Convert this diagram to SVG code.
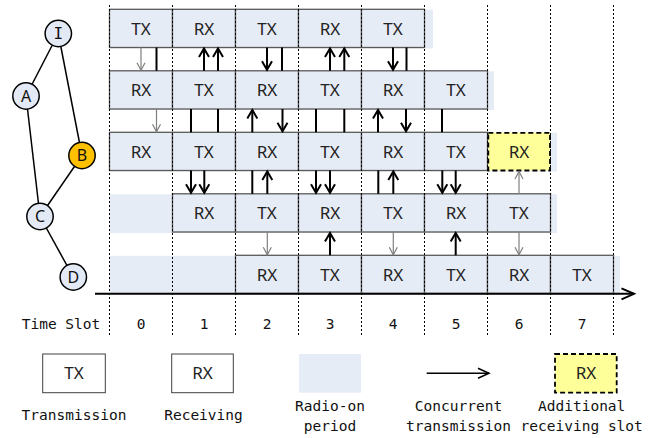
<svg xmlns="http://www.w3.org/2000/svg" width="656" height="438" viewBox="0 0 656 438">
<style>
.band{fill:#E6ECF6}
.box{fill:#E6ECF6;stroke:#595959;stroke-width:1.3}
.lbox{fill:#fff;stroke:#404040;stroke-width:1}
.ybox{fill:#FFFF99;stroke:#000;stroke-width:1.8;stroke-dasharray:5 3}
.bt{font-family:"Noto Sans","Open Sans",sans-serif;font-size:17px;fill:#222;text-anchor:middle}
.mono{font-family:"DejaVu Sans Mono","Liberation Mono",monospace;font-size:14.5px;fill:#111;text-anchor:middle}
.nl{font-family:"Noto Sans","Open Sans",sans-serif;font-size:16px;fill:#111;text-anchor:middle}
.grid{stroke:#000;stroke-width:1;stroke-dasharray:2 2;fill:none}
.edge{stroke:#000;stroke-width:1.5}
.node{fill:#E3EAF5;stroke:#000;stroke-width:1.5}
.bold{stroke:#000;stroke-width:2;fill:none}
.thin{stroke:#7F7F7F;stroke-width:1.2;fill:none}
</style>
<defs>
<marker id="ab" markerUnits="userSpaceOnUse" markerWidth="14" markerHeight="14" refX="10" refY="6" orient="auto" overflow="visible"><path d="M1.5,1 L10,6 L1.5,11" fill="none" stroke="#000" stroke-width="2"/></marker>
<marker id="at" markerUnits="userSpaceOnUse" markerWidth="14" markerHeight="14" refX="10" refY="6" orient="auto" overflow="visible"><path d="M2.5,2 L10,6 L2.5,10" fill="none" stroke="#7F7F7F" stroke-width="1.2"/></marker>
<marker id="ax" markerUnits="userSpaceOnUse" markerWidth="16" markerHeight="14" refX="13" refY="6" orient="auto" overflow="visible"><path d="M0.5,0.5 L13,6 L0.5,11.5" fill="none" stroke="#000" stroke-width="2"/></marker>
<marker id="al" markerUnits="userSpaceOnUse" markerWidth="16" markerHeight="14" refX="12" refY="6" orient="auto" overflow="visible"><path d="M1,1 L12,6 L1,11" fill="none" stroke="#000" stroke-width="1.5"/></marker>
</defs>

<!-- topology graph -->
<g id="edges">
<line class="edge" x1="58.3" y1="33.5" x2="26" y2="96"/>
<line class="edge" x1="58.3" y1="33.5" x2="82" y2="155.5"/>
<line class="edge" x1="26" y1="96" x2="40" y2="216.5"/>
<line class="edge" x1="82" y1="155.5" x2="40" y2="216.5"/>
<line class="edge" x1="40" y1="216.5" x2="73.3" y2="277"/>
</g>
<g id="node-I"><circle class="node" cx="58.3" cy="33.5" r="13.2"/><text class="mono" x="58.3" y="39.2" style="font-size:16px">I</text></g>
<g id="node-A"><circle class="node" cx="26" cy="96" r="13.2"/><text class="nl" x="26" y="101.7">A</text></g>
<g id="node-B"><circle class="node" cx="82" cy="155.5" r="13.2" style="fill:#FFC000"/><text class="nl" x="82" y="161.2">B</text></g>
<g id="node-C"><circle class="node" cx="40" cy="216.5" r="13.2"/><text class="nl" x="40" y="222.2">C</text></g>
<g id="node-D"><circle class="node" cx="73.3" cy="277" r="13.2"/><text class="nl" x="73.3" y="282.7">D</text></g>

<!-- radio-on bands -->
<g id="bands">
<rect class="band" x="109.5" y="9.8" width="323.5" height="38.7"/>
<rect class="band" x="109.5" y="71.3" width="384.5" height="38.7"/>
<rect class="band" x="109.5" y="132.8" width="447.5" height="38.7"/>
<rect class="band" x="109.5" y="194.3" width="447.5" height="38.7"/>
<rect class="band" x="109.5" y="255.8" width="510.5" height="38.2"/>
</g>

<!-- row I -->
<g id="row-I">
<rect class="box" x="109.5" y="9.3" width="63" height="38.2"/>
<rect class="box" x="172.5" y="9.3" width="63" height="38.2"/>
<rect class="box" x="235.5" y="9.3" width="63" height="38.2"/>
<rect class="box" x="298.5" y="9.3" width="63" height="38.2"/>
<rect class="box" x="361.5" y="9.3" width="63" height="38.2"/>
<text class="bt" x="141" y="34.5">TX</text>
<text class="bt" x="204" y="34.5">RX</text>
<text class="bt" x="267" y="34.5">TX</text>
<text class="bt" x="330" y="34.5">RX</text>
<text class="bt" x="393" y="34.5">TX</text>
</g>
<!-- row A -->
<g id="row-A">
<rect class="box" x="109.5" y="70.8" width="63" height="38.2"/>
<rect class="box" x="172.5" y="70.8" width="63" height="38.2"/>
<rect class="box" x="235.5" y="70.8" width="63" height="38.2"/>
<rect class="box" x="298.5" y="70.8" width="63" height="38.2"/>
<rect class="box" x="361.5" y="70.8" width="63" height="38.2"/>
<rect class="box" x="424.5" y="70.8" width="63" height="38.2"/>
<text class="bt" x="141" y="96">RX</text>
<text class="bt" x="204" y="96">TX</text>
<text class="bt" x="267" y="96">RX</text>
<text class="bt" x="330" y="96">TX</text>
<text class="bt" x="393" y="96">RX</text>
<text class="bt" x="456" y="96">TX</text>
</g>
<!-- row B -->
<g id="row-B">
<rect class="box" x="109.5" y="132.3" width="63" height="38.2"/>
<rect class="box" x="172.5" y="132.3" width="63" height="38.2"/>
<rect class="box" x="235.5" y="132.3" width="63" height="38.2"/>
<rect class="box" x="298.5" y="132.3" width="63" height="38.2"/>
<rect class="box" x="361.5" y="132.3" width="63" height="38.2"/>
<rect class="box" x="424.5" y="132.3" width="63" height="38.2"/>
<rect class="ybox" x="488.3" y="132.8" width="61.7" height="37.7"/>
<text class="bt" x="141" y="157.5">RX</text>
<text class="bt" x="204" y="157.5">TX</text>
<text class="bt" x="267" y="157.5">RX</text>
<text class="bt" x="330" y="157.5">TX</text>
<text class="bt" x="393" y="157.5">RX</text>
<text class="bt" x="456" y="157.5">TX</text>
<text class="bt" x="519" y="157.5">RX</text>
</g>
<!-- row C -->
<g id="row-C">
<rect class="box" x="172.5" y="193.8" width="63" height="38.2"/>
<rect class="box" x="235.5" y="193.8" width="63" height="38.2"/>
<rect class="box" x="298.5" y="193.8" width="63" height="38.2"/>
<rect class="box" x="361.5" y="193.8" width="63" height="38.2"/>
<rect class="box" x="424.5" y="193.8" width="63" height="38.2"/>
<rect class="box" x="487.5" y="193.8" width="63" height="38.2"/>
<text class="bt" x="204" y="219">RX</text>
<text class="bt" x="267" y="219">TX</text>
<text class="bt" x="330" y="219">RX</text>
<text class="bt" x="393" y="219">TX</text>
<text class="bt" x="456" y="219">RX</text>
<text class="bt" x="519" y="219">TX</text>
</g>
<!-- row D -->
<g id="row-D">
<rect class="box" x="235.5" y="255.3" width="63" height="38.2"/>
<rect class="box" x="298.5" y="255.3" width="63" height="38.2"/>
<rect class="box" x="361.5" y="255.3" width="63" height="38.2"/>
<rect class="box" x="424.5" y="255.3" width="63" height="38.2"/>
<rect class="box" x="487.5" y="255.3" width="63" height="38.2"/>
<rect class="box" x="550.5" y="255.3" width="63" height="38.2"/>
<text class="bt" x="267" y="280.5">RX</text>
<text class="bt" x="330" y="280.5">TX</text>
<text class="bt" x="393" y="280.5">RX</text>
<text class="bt" x="456" y="280.5">TX</text>
<text class="bt" x="519" y="280.5">RX</text>
<text class="bt" x="582" y="280.5">TX</text>
</g>

<!-- slot grid -->
<g id="grid">
<line class="grid" x1="109.5" y1="5" x2="109.5" y2="337"/>
<line class="grid" x1="172.5" y1="5" x2="172.5" y2="337"/>
<line class="grid" x1="235.5" y1="5" x2="235.5" y2="337"/>
<line class="grid" x1="298.5" y1="5" x2="298.5" y2="337"/>
<line class="grid" x1="361.5" y1="5" x2="361.5" y2="337"/>
<line class="grid" x1="424.5" y1="5" x2="424.5" y2="337"/>
<line class="grid" x1="487.5" y1="5" x2="487.5" y2="337"/>
<line class="grid" x1="550.5" y1="5" x2="550.5" y2="337"/>
<line class="grid" x1="613.5" y1="5" x2="613.5" y2="337"/>
</g>

<!-- connectors -->
<g id="connectors">
<!-- gap I/A -->
<line class="thin" x1="141" y1="47.5" x2="141" y2="70.3" marker-end="url(#at)"/>
<line class="bold" x1="156.5" y1="47.5" x2="156.5" y2="70.8"/>
<line class="bold" x1="204" y1="70.8" x2="204" y2="48.5" marker-end="url(#ab)"/>
<line class="bold" x1="218" y1="70.8" x2="218" y2="48.5" marker-end="url(#ab)"/>
<line class="bold" x1="267" y1="47.5" x2="267" y2="69.8" marker-end="url(#ab)"/>
<line class="bold" x1="282" y1="47.5" x2="282" y2="70.8"/>
<line class="bold" x1="330" y1="70.8" x2="330" y2="48.5" marker-end="url(#ab)"/>
<line class="bold" x1="344.3" y1="70.8" x2="344.3" y2="48.5" marker-end="url(#ab)"/>
<line class="bold" x1="393" y1="47.5" x2="393" y2="69.8" marker-end="url(#ab)"/>
<line class="bold" x1="406.5" y1="47.5" x2="406.5" y2="70.8"/>
<!-- gap A/B -->
<line class="thin" x1="156.5" y1="109" x2="156.5" y2="131.8" marker-end="url(#at)"/>
<line class="bold" x1="191" y1="109" x2="191" y2="132.3"/>
<line class="bold" x1="218" y1="109" x2="218" y2="132.3"/>
<line class="bold" x1="252.3" y1="132.3" x2="252.3" y2="110" marker-end="url(#ab)"/>
<line class="bold" x1="282.5" y1="109" x2="282.5" y2="131.3" marker-end="url(#ab)"/>
<line class="bold" x1="316" y1="109" x2="316" y2="132.3"/>
<line class="bold" x1="344.3" y1="109" x2="344.3" y2="132.3"/>
<line class="bold" x1="378" y1="132.3" x2="378" y2="110" marker-end="url(#ab)"/>
<line class="bold" x1="406" y1="109" x2="406" y2="131.3" marker-end="url(#ab)"/>
<line class="bold" x1="442" y1="109" x2="442" y2="132.3"/>
<!-- gap B/C -->
<line class="bold" x1="191" y1="170.5" x2="191" y2="192.8" marker-end="url(#ab)"/>
<line class="bold" x1="204.3" y1="170.5" x2="204.3" y2="192.8" marker-end="url(#ab)"/>
<line class="bold" x1="252.3" y1="170.5" x2="252.3" y2="193.8"/>
<line class="bold" x1="267.3" y1="193.8" x2="267.3" y2="171.5" marker-end="url(#ab)"/>
<line class="bold" x1="316" y1="170.5" x2="316" y2="192.8" marker-end="url(#ab)"/>
<line class="bold" x1="330" y1="170.5" x2="330" y2="192.8" marker-end="url(#ab)"/>
<line class="bold" x1="378.3" y1="170.5" x2="378.3" y2="193.8"/>
<line class="bold" x1="393.3" y1="193.8" x2="393.3" y2="171.5" marker-end="url(#ab)"/>
<line class="bold" x1="442.3" y1="170.5" x2="442.3" y2="192.8" marker-end="url(#ab)"/>
<line class="bold" x1="455.7" y1="170.5" x2="455.7" y2="192.8" marker-end="url(#ab)"/>
<line class="thin" x1="519" y1="193.8" x2="519" y2="171.5" marker-end="url(#at)"/>
<!-- gap C/D -->
<line class="thin" x1="267.3" y1="232" x2="267.3" y2="254.8" marker-end="url(#at)"/>
<line class="bold" x1="330" y1="255.3" x2="330" y2="233" marker-end="url(#ab)"/>
<line class="thin" x1="393.3" y1="232" x2="393.3" y2="254.8" marker-end="url(#at)"/>
<line class="bold" x1="455.7" y1="255.3" x2="455.7" y2="233" marker-end="url(#ab)"/>
<line class="thin" x1="519" y1="232" x2="519" y2="254.8" marker-end="url(#at)"/>
</g>

<!-- time axis -->
<g id="axis">
<line x1="95" y1="293.8" x2="634" y2="293.8" stroke="#000" stroke-width="2" marker-end="url(#ax)"/>
<text class="mono" x="61" y="329">Time Slot</text>
<text class="mono" x="141" y="329">0</text>
<text class="mono" x="204" y="329">1</text>
<text class="mono" x="267" y="329">2</text>
<text class="mono" x="330" y="329">3</text>
<text class="mono" x="393" y="329">4</text>
<text class="mono" x="456" y="329">5</text>
<text class="mono" x="519" y="329">6</text>
<text class="mono" x="582" y="329">7</text>
</g>

<!-- legend -->
<g id="legend-tx">
<rect class="lbox" x="42.7" y="354" width="62.6" height="38.7"/>
<text class="bt" x="74" y="379.2">TX</text>
<text class="mono" x="74" y="420">Transmission</text>
</g>
<g id="legend-rx">
<rect class="lbox" x="171.7" y="354" width="61.6" height="38.7"/>
<text class="bt" x="202.5" y="379.2">RX</text>
<text class="mono" x="203.5" y="420">Receiving</text>
</g>
<g id="legend-radio">
<rect class="band" x="299" y="354" width="62" height="38.7"/>
<text class="mono" x="330" y="411">Radio-on</text>
<text class="mono" x="330" y="431">period</text>
</g>
<g id="legend-concurrent">
<line x1="426.7" y1="373.3" x2="489" y2="373.3" stroke="#000" stroke-width="1.5" marker-end="url(#al)"/>
<text class="mono" x="458.5" y="411">Concurrent</text>
<text class="mono" x="458.5" y="431">transmission</text>
</g>
<g id="legend-additional">
<rect class="ybox" x="555" y="354" width="61.7" height="38.7"/>
<text class="bt" x="586" y="379.2">RX</text>
<text class="mono" x="581.7" y="411">Additional</text>
<text class="mono" x="581.7" y="431">receiving slot</text>
</g>
</svg>
